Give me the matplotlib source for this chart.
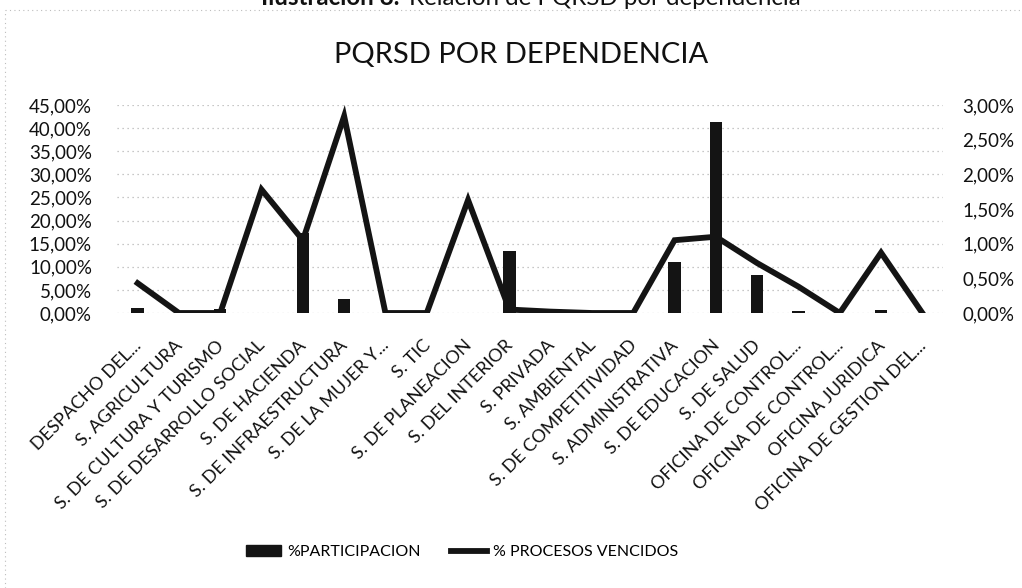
import matplotlib
matplotlib.use("Agg")
import matplotlib.pyplot as plt
from matplotlib.ticker import FuncFormatter
from matplotlib.patches import Patch
from matplotlib.lines import Line2D
from matplotlib.transforms import ScaledTranslation

plt.rcParams['font.family'] = ['Lato', 'DejaVu Sans']

categories = [
    "DESPACHO DEL...", "S. AGRICULTURA", "S. DE CULTURA Y TURISMO",
    "S. DE DESARROLLO SOCIAL", "S. DE HACIENDA", "S. DE INFRAESTRUCTURA",
    "S. DE LA MUJER Y...", "S. TIC", "S. DE PLANEACION", "S. DEL INTERIOR",
    "S. PRIVADA", "S. AMBIENTAL", "S. DE COMPETITIVIDAD", "S. ADMINISTRATIVA",
    "S. DE EDUCACION", "S. DE SALUD", "OFICINA DE CONTROL...",
    "OFICINA DE CONTROL...", "OFICINA JURIDICA", "OFICINA DE GESTION DEL...",
]
participacion = [1.0, 0.0, 0.9, 0.0, 17.2, 3.0, 0.0, 0.0, 0.0, 13.5,
                 0.0, 0.0, 0.0, 11.1, 41.3, 8.3, 0.5, 0.0, 0.6, 0.0]
procesos_vencidos = [0.43, 0.0, 0.0, 1.78, 1.05, 2.84, 0.0, 0.0, 1.63, 0.05,
                     0.02, 0.0, 0.0, 1.05, 1.10, 0.72, 0.38, 0.0, 0.87, 0.0]
left_ticks = [0, 5, 10, 15, 20, 25, 30, 35, 40, 45]
right_ticks = [0, 0.5, 1.0, 1.5, 2.0, 2.5, 3.0]

title = "PQRSD POR DEPENDENCIA"
heading_bold = "Ilustración 8."
heading_rest = "Relación de PQRSD por dependencia"
legend_labels = ["%PARTICIPACION", "% PROCESOS VENCIDOS"]

W, H = 1022, 588
fig = plt.figure(figsize=(W / 100, H / 100), dpi=100)
fig.patch.set_facecolor("white")

ax = fig.add_axes([117 / W, 1 - 313 / H, (943 - 117) / W, (313 - 105) / H])
ax2 = ax.twinx()

x = list(range(len(categories)))
dark = "#141414"
ax.bar(x, participacion, width=0.3, color=dark, zorder=2)
ax2.plot(x, procesos_vencidos, color=dark, lw=4.2, solid_joinstyle="miter", zorder=3)

ax.set_xlim(-0.5, len(categories) - 0.5)
ax.set_ylim(0, 45)
ax2.set_ylim(0, 3)
ax.set_yticks(left_ticks)
ax2.set_yticks(right_ticks)

fmt = FuncFormatter(lambda v, p: f"{v:.2f}%".replace(".", ","))
ax.yaxis.set_major_formatter(fmt)
ax2.yaxis.set_major_formatter(fmt)

ax.grid(axis="y", color="#b5b5b5", linestyle=(0, (1, 3)), lw=0.9, zorder=0)
ax.set_axisbelow(True)

for a in (ax, ax2):
    for s in a.spines.values():
        s.set_visible(False)
    a.tick_params(length=0)

ax.tick_params(axis="y", labelsize=13.5, pad=18, colors="#111111")
ax2.tick_params(axis="y", labelsize=13.5, pad=14, colors="#111111")

ax.set_xticks(x)
ax.set_xticklabels(categories, rotation=45, ha="right", va="center",
                   rotation_mode="anchor", fontsize=13, color="#111111")
ax.tick_params(axis="x", pad=0)
shift = ScaledTranslation(1 / 100, -30 / 100, fig.dpi_scale_trans)
for lab in ax.get_xticklabels():
    lab.set_transform(lab.get_transform() + shift)

fig.text(521 / W, 1 - 55 / H, title, ha="center", va="center", fontsize=21, color="#111111")

# partially clipped heading at the top edge (as in the reference scan)
fig.text(399 / W, 1 - 5 / H, heading_bold, ha="right", va="baseline", fontsize=17.4,
         fontweight="bold", color="#111111")
fig.text(409 / W, 1 - 5 / H, heading_rest, ha="left", va="baseline", fontsize=17.4,
         color="#111111")

# faint dotted frame of the pasted chart
fig.add_artist(Line2D([5 / W, 5 / W], [0, 1 - 10 / H], transform=fig.transFigure,
                      color="#bdbdbd", lw=0.8, linestyle=(0, (1, 3))))
fig.add_artist(Line2D([5 / W, 1], [1 - 10 / H, 1 - 10 / H], transform=fig.transFigure,
                      color="#bdbdbd", lw=0.8, linestyle=(0, (1, 3))))

handles = [Patch(facecolor=dark, edgecolor=dark),
           Line2D([0], [0], color=dark, lw=4.2)]
fig.legend(handles, legend_labels, loc="center", bbox_to_anchor=(462 / W, 1 - 552 / H),
           ncol=2, frameon=False, fontsize=11.5, handlelength=2.2, handleheight=0.7,
           columnspacing=1.9, handletextpad=0.4)

fig.savefig("out.png", dpi=100)
